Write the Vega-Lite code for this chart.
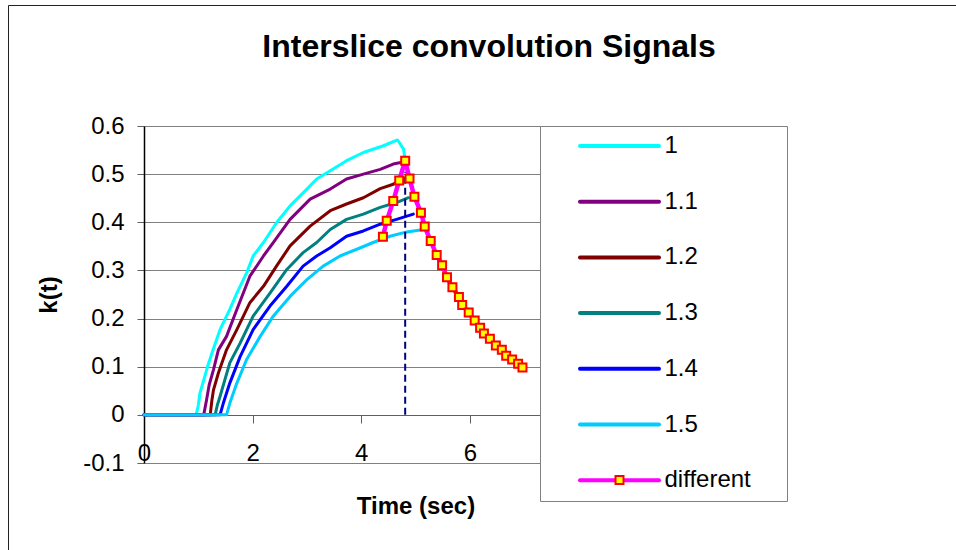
{
  "$schema": "https://vega.github.io/schema/vega-lite/v6.json",
  "width": 543,
  "height": 337,
  "autosize": {"type": "none"},
  "padding": {"left": 144, "top": 126, "right": 269, "bottom": 87},
  "background": "#FFFFFF",
  "title": {
    "text": "Interslice convolution Signals",
    "font": "Liberation Sans",
    "fontSize": 32,
    "fontWeight": "bold",
    "color": "#000000",
    "anchor": "middle",
    "dx": 73.5,
    "offset": -59
  },
  "datasets": {
    "curves": [
      {"series": "1", "t": 0, "k": 0},
      {"series": "1", "t": 0.96, "k": 0},
      {"series": "1", "t": 1.0, "k": 0.02},
      {"series": "1", "t": 1.03, "k": 0.045},
      {"series": "1", "t": 1.1, "k": 0.072},
      {"series": "1", "t": 1.17, "k": 0.1},
      {"series": "1", "t": 1.25, "k": 0.128},
      {"series": "1", "t": 1.4, "k": 0.177},
      {"series": "1", "t": 1.58, "k": 0.219},
      {"series": "1", "t": 1.71, "k": 0.253},
      {"series": "1", "t": 1.89, "k": 0.295},
      {"series": "1", "t": 2.01, "k": 0.33},
      {"series": "1", "t": 2.2, "k": 0.358},
      {"series": "1", "t": 2.44, "k": 0.399},
      {"series": "1", "t": 2.69, "k": 0.434},
      {"series": "1", "t": 3.0, "k": 0.469},
      {"series": "1", "t": 3.18, "k": 0.49},
      {"series": "1", "t": 3.43, "k": 0.507},
      {"series": "1", "t": 3.73, "k": 0.528},
      {"series": "1", "t": 4.04, "k": 0.545},
      {"series": "1", "t": 4.41, "k": 0.559},
      {"series": "1", "t": 4.67, "k": 0.571},
      {"series": "1", "t": 4.78, "k": 0.552},
      {"series": "1", "t": 4.81, "k": 0.528},
      {"series": "1.1", "t": 0, "k": 0},
      {"series": "1.1", "t": 1.1, "k": 0},
      {"series": "1.1", "t": 1.15, "k": 0.03},
      {"series": "1.1", "t": 1.2, "k": 0.062},
      {"series": "1.1", "t": 1.28, "k": 0.094},
      {"series": "1.1", "t": 1.37, "k": 0.135},
      {"series": "1.1", "t": 1.52, "k": 0.163},
      {"series": "1.1", "t": 1.71, "k": 0.219},
      {"series": "1.1", "t": 1.95, "k": 0.288},
      {"series": "1.1", "t": 2.2, "k": 0.33},
      {"series": "1.1", "t": 2.38, "k": 0.358},
      {"series": "1.1", "t": 2.69, "k": 0.406},
      {"series": "1.1", "t": 3.06, "k": 0.448},
      {"series": "1.1", "t": 3.43, "k": 0.469},
      {"series": "1.1", "t": 3.73, "k": 0.49},
      {"series": "1.1", "t": 4.04, "k": 0.5},
      {"series": "1.1", "t": 4.35, "k": 0.51},
      {"series": "1.1", "t": 4.59, "k": 0.521},
      {"series": "1.1", "t": 4.73, "k": 0.524},
      {"series": "1.2", "t": 0, "k": 0},
      {"series": "1.2", "t": 1.22, "k": 0},
      {"series": "1.2", "t": 1.25, "k": 0.03},
      {"series": "1.2", "t": 1.28, "k": 0.052},
      {"series": "1.2", "t": 1.37, "k": 0.087},
      {"series": "1.2", "t": 1.52, "k": 0.135},
      {"series": "1.2", "t": 1.71, "k": 0.177},
      {"series": "1.2", "t": 1.95, "k": 0.233},
      {"series": "1.2", "t": 2.2, "k": 0.267},
      {"series": "1.2", "t": 2.44, "k": 0.309},
      {"series": "1.2", "t": 2.69, "k": 0.351},
      {"series": "1.2", "t": 3.06, "k": 0.392},
      {"series": "1.2", "t": 3.43, "k": 0.424},
      {"series": "1.2", "t": 3.73, "k": 0.438},
      {"series": "1.2", "t": 4.04, "k": 0.451},
      {"series": "1.2", "t": 4.35, "k": 0.47},
      {"series": "1.2", "t": 4.59, "k": 0.479},
      {"series": "1.2", "t": 4.69, "k": 0.486},
      {"series": "1.3", "t": 0, "k": 0},
      {"series": "1.3", "t": 1.31, "k": 0},
      {"series": "1.3", "t": 1.35, "k": 0.02},
      {"series": "1.3", "t": 1.4, "k": 0.038},
      {"series": "1.3", "t": 1.58, "k": 0.108},
      {"series": "1.3", "t": 1.77, "k": 0.149},
      {"series": "1.3", "t": 2.01, "k": 0.205},
      {"series": "1.3", "t": 2.32, "k": 0.253},
      {"series": "1.3", "t": 2.63, "k": 0.302},
      {"series": "1.3", "t": 2.93, "k": 0.337},
      {"series": "1.3", "t": 3.18, "k": 0.358},
      {"series": "1.3", "t": 3.43, "k": 0.385},
      {"series": "1.3", "t": 3.73, "k": 0.406},
      {"series": "1.3", "t": 4.04, "k": 0.417},
      {"series": "1.3", "t": 4.35, "k": 0.431},
      {"series": "1.3", "t": 4.65, "k": 0.441},
      {"series": "1.3", "t": 4.87, "k": 0.451},
      {"series": "1.4", "t": 0, "k": 0},
      {"series": "1.4", "t": 1.4, "k": 0},
      {"series": "1.4", "t": 1.46, "k": 0.024},
      {"series": "1.4", "t": 1.58, "k": 0.066},
      {"series": "1.4", "t": 1.77, "k": 0.121},
      {"series": "1.4", "t": 2.01, "k": 0.177},
      {"series": "1.4", "t": 2.32, "k": 0.226},
      {"series": "1.4", "t": 2.63, "k": 0.267},
      {"series": "1.4", "t": 2.93, "k": 0.309},
      {"series": "1.4", "t": 3.18, "k": 0.33},
      {"series": "1.4", "t": 3.43, "k": 0.347},
      {"series": "1.4", "t": 3.73, "k": 0.371},
      {"series": "1.4", "t": 4.04, "k": 0.382},
      {"series": "1.4", "t": 4.35, "k": 0.396},
      {"series": "1.4", "t": 4.65, "k": 0.406},
      {"series": "1.4", "t": 4.96, "k": 0.417},
      {"series": "1.5", "t": 0, "k": 0},
      {"series": "1.5", "t": 1.52, "k": 0},
      {"series": "1.5", "t": 1.58, "k": 0.024},
      {"series": "1.5", "t": 1.71, "k": 0.066},
      {"series": "1.5", "t": 1.89, "k": 0.115},
      {"series": "1.5", "t": 2.14, "k": 0.163},
      {"series": "1.5", "t": 2.38, "k": 0.205},
      {"series": "1.5", "t": 2.69, "k": 0.246},
      {"series": "1.5", "t": 3.0, "k": 0.281},
      {"series": "1.5", "t": 3.3, "k": 0.309},
      {"series": "1.5", "t": 3.61, "k": 0.33},
      {"series": "1.5", "t": 3.92, "k": 0.344},
      {"series": "1.5", "t": 4.22, "k": 0.358},
      {"series": "1.5", "t": 4.53, "k": 0.371},
      {"series": "1.5", "t": 4.84, "k": 0.38},
      {"series": "1.5", "t": 5.15, "k": 0.385}
    ],
    "different": [
      {"series": "different", "t": 4.4, "k": 0.37},
      {"series": "different", "t": 4.47, "k": 0.403},
      {"series": "different", "t": 4.59, "k": 0.444},
      {"series": "different", "t": 4.7, "k": 0.487},
      {"series": "different", "t": 4.81, "k": 0.528},
      {"series": "different", "t": 4.89, "k": 0.491},
      {"series": "different", "t": 4.98, "k": 0.453},
      {"series": "different", "t": 5.1, "k": 0.42},
      {"series": "different", "t": 5.17, "k": 0.391},
      {"series": "different", "t": 5.28, "k": 0.361},
      {"series": "different", "t": 5.39, "k": 0.332},
      {"series": "different", "t": 5.49, "k": 0.311},
      {"series": "different", "t": 5.58, "k": 0.286},
      {"series": "different", "t": 5.68, "k": 0.265},
      {"series": "different", "t": 5.8, "k": 0.245},
      {"series": "different", "t": 5.86, "k": 0.228},
      {"series": "different", "t": 5.98, "k": 0.2125},
      {"series": "different", "t": 6.09, "k": 0.196},
      {"series": "different", "t": 6.19, "k": 0.181},
      {"series": "different", "t": 6.26, "k": 0.169},
      {"series": "different", "t": 6.37, "k": 0.158},
      {"series": "different", "t": 6.48, "k": 0.144},
      {"series": "different", "t": 6.59, "k": 0.135},
      {"series": "different", "t": 6.67, "k": 0.123},
      {"series": "different", "t": 6.78, "k": 0.115},
      {"series": "different", "t": 6.89, "k": 0.106},
      {"series": "different", "t": 6.97, "k": 0.0985}
    ],
    "marker": [
      {"kind": "peak time", "t": 4.81, "k": 0, "k2": 0.505}
    ]
  },
  "encoding": {
    "x": {
      "field": "t",
      "type": "quantitative",
      "scale": {"domain": [0, 10], "nice": false, "zero": false},
      "axis": {
        "title": "Time (sec)",
        "values": [0, 2, 4, 6, 8, 10],
        "labelExpr": "'' + datum.value",
        "offset": -48,
        "grid": false,
        "domainColor": "#606060",
        "domainWidth": 1,
        "tickColor": "#606060",
        "tickSize": 8,
        "labelFont": "Liberation Sans",
        "labelFontSize": 24,
        "labelColor": "#000000",
        "labelPadding": 18,
        "labelFlush": false,
        "labelOverlap": false,
        "titleFont": "Liberation Sans",
        "titleFontSize": 24,
        "titleFontWeight": "bold",
        "titleColor": "#000000",
        "titlePadding": 29
      }
    },
    "y": {
      "field": "k",
      "type": "quantitative",
      "scale": {"domain": [-0.1, 0.6], "nice": false, "zero": false},
      "axis": {
        "title": "k(t)",
        "values": [-0.1, 0, 0.1, 0.2, 0.3, 0.4, 0.5, 0.6],
        "labelExpr": "'' + datum.value",
        "grid": true,
        "gridColor": "#808080",
        "gridWidth": 1,
        "domainColor": "#000000",
        "domainWidth": 1.5,
        "tickColor": "#606060",
        "tickSize": 7,
        "labelFont": "Liberation Sans",
        "labelFontSize": 24,
        "labelColor": "#000000",
        "labelPadding": 13,
        "titleFont": "Liberation Sans",
        "titleFontSize": 24,
        "titleFontWeight": "bold",
        "titleColor": "#000000",
        "titlePadding": 21
      }
    }
  },
  "layer": [
    {
      "data": {"name": "curves"},
      "mark": {"type": "line", "strokeWidth": 3, "strokeCap": "round", "strokeJoin": "round"},
      "encoding": {
        "stroke": {
          "field": "series",
          "type": "nominal",
          "scale": {
            "domain": ["1", "1.1", "1.2", "1.3", "1.4", "1.5", "different"],
            "range": ["#00FFFF", "#800080", "#800000", "#008080", "#0000FF", "#00CCFF", "#FF00FF"]
          },
          "legend": {
            "title": null,
            "orient": "none",
            "legendX": 396,
            "legendY": 0,
            "zindex": 1,
            "padding": 8,
            "fillColor": "#FFFFFF",
            "strokeColor": "#808080",
            "symbolType": "M-3.95,0H3.95M15.15,0",
            "symbolSize": 400,
            "symbolStrokeWidth": 4,
            "symbolOffset": 59.5,
            "labelOffset": 33,
            "rowPadding": 31.7,
            "labelFont": "Liberation Sans",
            "labelFontSize": 24,
            "labelColor": "#000000",
            "labelLimit": 0,
            "encode": {"symbols": {"update": {"strokeWidth": {"value": 4}, "strokeCap": {"value": "round"}}}}
          }
        }
      }
    },
    {
      "data": {"name": "marker"},
      "mark": {"type": "rule", "color": "#000080", "strokeWidth": 2},
      "encoding": {
        "y2": {"field": "k2"},
        "strokeDash": {
          "field": "kind",
          "type": "nominal",
          "scale": {"domain": ["peak time"], "range": [[7, 4]]},
          "legend": {
            "title": null,
            "orient": "none",
            "legendX": -136,
            "legendY": -121,
            "zindex": 0,
            "padding": 600,
            "strokeColor": "#222222",
            "symbolOpacity": 0,
            "labelOpacity": 0,
            "labelExpr": "''",
            "encode": {"legend": {"update": {"strokeWidth": {"value": 2}}}}
          }
        }
      }
    },
    {
      "data": {"name": "different"},
      "mark": {"type": "line", "strokeWidth": 4.5, "strokeCap": "round", "strokeJoin": "round"},
      "encoding": {
        "stroke": {
          "field": "series",
          "type": "nominal",
          "scale": {
            "domain": ["1", "1.1", "1.2", "1.3", "1.4", "1.5", "different"],
            "range": ["#00FFFF", "#800080", "#800000", "#008080", "#0000FF", "#00CCFF", "#FF00FF"]
          }
        }
      }
    },
    {
      "data": {"name": "different"},
      "mark": {"type": "point", "shape": "square", "filled": true, "size": 64, "stroke": "#FF0000", "strokeWidth": 2, "opacity": 1},
      "encoding": {
        "fill": {
          "field": "series",
          "type": "nominal",
          "scale": {"domain": ["different"], "range": ["#FFFF00"]},
          "legend": {
            "title": null,
            "orient": "none",
            "legendX": 470.5,
            "legendY": 349,
            "zindex": 2,
            "padding": 0,
            "symbolType": "square",
            "symbolSize": 64,
            "symbolStrokeColor": "#FF0000",
            "symbolStrokeWidth": 2,
            "labelFontSize": 1,
            "labelOpacity": 0,
            "labelExpr": "''",
            "labelOffset": 0,
            "encode": {"symbols": {"update": {"stroke": {"value": "#FF0000"}, "strokeWidth": {"value": 2}, "opacity": {"value": 1}}}}
          }
        }
      }
    }
  ]
}
